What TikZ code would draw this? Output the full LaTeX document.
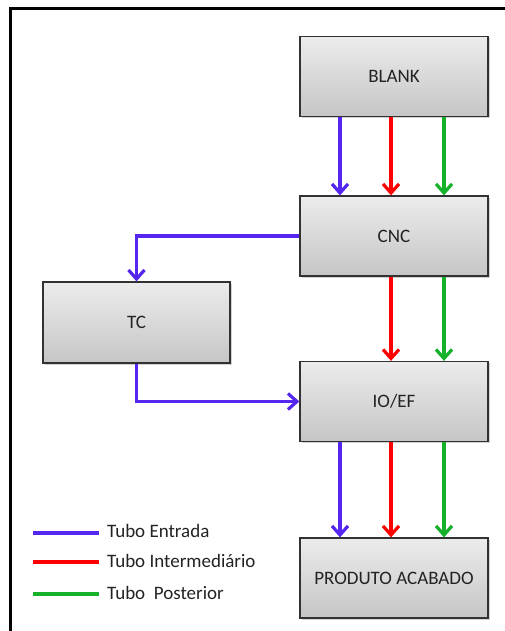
\documentclass[tikz,border=0pt]{standalone}
\usepackage{fontspec}
\setmainfont{Carlito}
\usetikzlibrary{arrows.meta,shadows,calc}
\definecolor{tblue}{RGB}{84,38,240}
\definecolor{tred}{RGB}{255,0,0}
\definecolor{tgreen}{RGB}{22,178,44}
\definecolor{boxline}{RGB}{50,50,50}
\definecolor{txt}{RGB}{35,35,35}
\begin{document}
\begin{tikzpicture}[x=1pt,y=-1pt,
  procbox/.style={draw=boxline,line width=1.3pt,top color=gray!15,bottom color=gray!45,
    minimum width=188pt,minimum height=80pt,inner sep=0pt,
    font=\fontsize{19}{21}\selectfont,text=txt,
    drop shadow={shadow xshift=1.5pt,shadow yshift=-1.5pt,opacity=0.35}},
  flow/.style={line width=3.4pt,-{Straight Barb[length=9pt,width=16pt,line width=3.2pt]}},
  legline/.style={line width=3.6pt},
  legtext/.style={anchor=west,font=\fontsize{19}{21}\selectfont,text=txt,inner sep=0pt}]
\useasboundingbox (0,0) rectangle (505,631);
\fill[white] (0,0) rectangle (505,631);
\draw[line width=3pt] (10,631) -- (10,9) -- (505,9);

\node[procbox] (blank) at (394,76.5) {BLANK};
\node[procbox] (cnc) at (394,236) {CNC};
\node[procbox] (io) at (394,401.5) {IO/EF};
\node[procbox] (pa) at (394,578) {PRODUTO ACABADO};
\node[procbox,minimum width=187pt,minimum height=81pt] (tc) at (136.5,322.5) {TC};

\coordinate (xb) at (340,0);
\coordinate (xr) at (391,0);
\coordinate (xg) at (444,0);

\draw[flow,tblue] (blank.south -| xb) -- (cnc.north -| xb);
\draw[flow,tred] (blank.south -| xr) -- (cnc.north -| xr);
\draw[flow,tgreen] (blank.south -| xg) -- (cnc.north -| xg);

\draw[flow,tred] (cnc.south -| xr) -- (io.north -| xr);
\draw[flow,tgreen] (cnc.south -| xg) -- (io.north -| xg);

\draw[flow,tblue] (cnc.west) -| (tc.north);
\draw[flow,tblue] (tc.south) |- (io.west);

\draw[flow,tblue] (io.south -| xb) -- (pa.north -| xb);
\draw[flow,tred] (io.south -| xr) -- (pa.north -| xr);
\draw[flow,tgreen] (io.south -| xg) -- (pa.north -| xg);

\coordinate (l1a) at (33,533); \coordinate (l1b) at (99,533);
\coordinate (l2a) at (33,562); \coordinate (l2b) at (99,562);
\coordinate (l3a) at (33,594); \coordinate (l3b) at (99,594);
\draw[legline,tblue] (l1a) -- (l1b);
\draw[legline,tred] (l2a) -- (l2b);
\draw[legline,tgreen] (l3a) -- (l3b);
\node[legtext] (t1) at (107,531) {Tubo Entrada};
\node[legtext] (t2) at (107,561) {Tubo Intermediário};
\node[legtext] (t3) at (107,593) {Tubo\ \ Posterior};
\end{tikzpicture}
\end{document}
